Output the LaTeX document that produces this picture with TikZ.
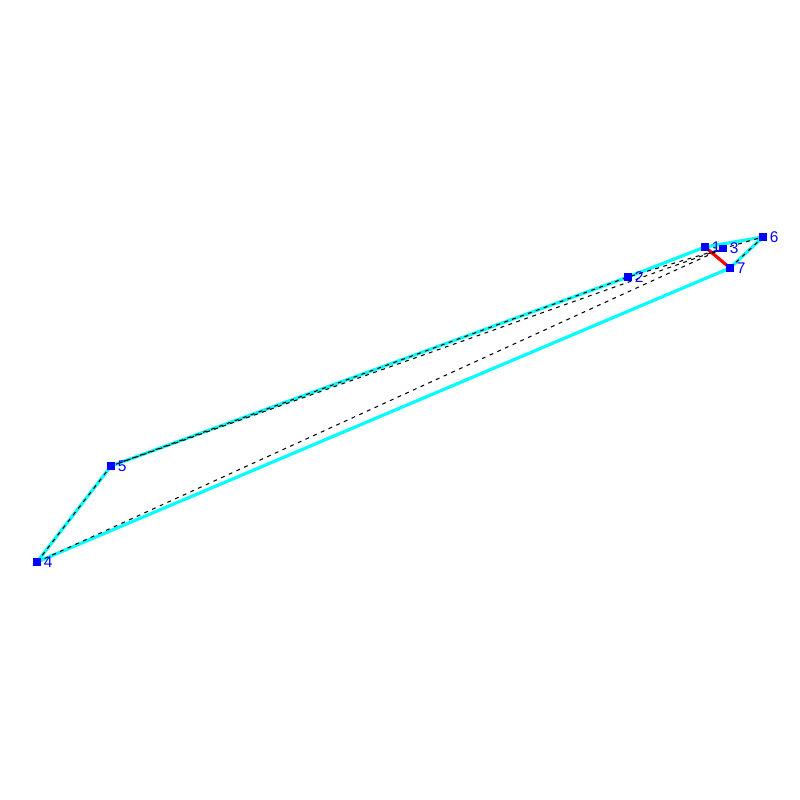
\documentclass[tikz,border=0pt]{standalone}
\usepackage{tikz}
\usepackage{fontspec}
\setsansfont{Liberation Sans}
\usetikzlibrary{positioning}
\definecolor{edgecyan}{RGB}{0,255,255}
\definecolor{ptblue}{RGB}{0,0,255}
\definecolor{hingered}{RGB}{255,0,0}
\tikzset{
    ctrl-pt/.style = {fill=ptblue, rectangle, inner sep=0pt, minimum size=0.075cm},
    pt-label/.style = {text=ptblue, font=\fontsize{4.4}{4.4}\selectfont\sffamily, inner sep=0pt},
    edge-line/.style = {edgecyan, line width=0.9pt},
    hinge-line/.style = {hingered, line width=0.9pt},
    hidden-line/.style = {black, line width=0.3pt, dash pattern=on 1.1pt off 1.3pt},
}

\begin{document}
\begin{tikzpicture}
\useasboundingbox (0,0) rectangle (8,8);
% control points
\node [ctrl-pt] (p1) at (7.05,5.53) {};
\node [ctrl-pt] (p2) at (6.28,5.23) {};
\node [ctrl-pt] (p3) at (7.23,5.515) {};
\node [ctrl-pt] (p4) at (0.37,2.38) {};
\node [ctrl-pt] (p5) at (1.11,3.34) {};
\node [ctrl-pt] (p6) at (7.63,5.63) {};
\node [ctrl-pt] (p7) at (7.30,5.32) {};

% outline
\draw [edge-line] (p5.center) -- (p2.center) -- (p1.center) -- (p6.center) -- (p7.center) -- (p4.center) -- cycle;
\draw [hinge-line] (p1.center) -- (p7.center);

% hidden lines
\draw [hidden-line] (p4.center) -- (p5.center) -- (p2.center) -- (p3.center);
\draw [hidden-line] (p5.center) -- (p3.center);
\draw [hidden-line] (p4.center) -- (p3.center);
\draw [hidden-line] (p1.center) -- (p3.center) -- (p6.center) -- (p7.center);

% redraw markers on top
\foreach \p in {p1,p2,p3,p4,p5,p6,p7}
    \fill [ptblue] ([shift={(-0.0375,-0.0375)}]\p.center) rectangle ([shift={(0.0375,0.0375)}]\p.center);

% labels
\node [pt-label, right=0.5pt of p1] (l1) {1};
\node [pt-label, right=0.5pt of p2] (l2) {2};
\node [pt-label, right=0.5pt of p3] (l3) {3};
\node [pt-label, right=0.5pt of p4] (l4) {4};
\node [pt-label, right=0.5pt of p5] (l5) {5};
\node [pt-label, right=0.5pt of p6] (l6) {6};
\node [pt-label, right=0.5pt of p7] (l7) {7};
\end{tikzpicture}
\end{document}
